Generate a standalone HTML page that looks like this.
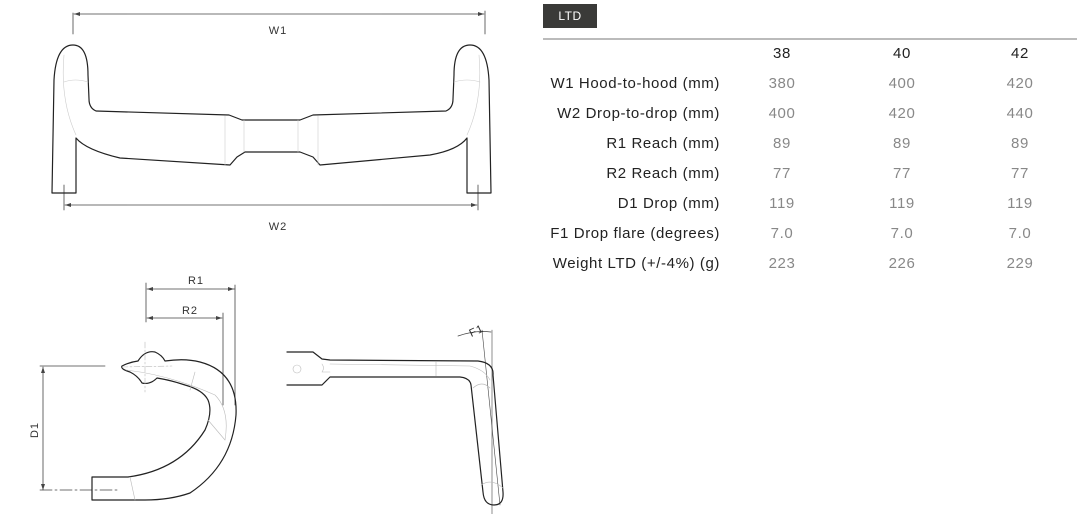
<!DOCTYPE html>
<html><head><meta charset="utf-8"><style>
html,body{margin:0;padding:0;background:#fff;}
body{width:1080px;height:514px;position:relative;overflow:hidden;font-family:"Liberation Sans",sans-serif;}
svg{position:absolute;left:0;top:0;}
.ltd{position:absolute;left:543px;top:4px;width:54px;height:24px;background:#3a3a38;color:#fff;font-size:12px;line-height:24px;text-align:center;letter-spacing:0.5px;}
.rule{position:absolute;left:543px;top:38px;width:534px;height:2px;background:#bbb;}
.t{position:absolute;font-size:15px;letter-spacing:0.6px;line-height:18px;}
.lab{right:360px;color:#222;text-align:right;}
.v{width:80px;text-align:center;color:#888;}
.h{width:80px;text-align:center;color:#222;}
</style></head><body>
<svg width="1080" height="514" viewBox="0 0 1080 514" fill="none" stroke-linecap="round" stroke-linejoin="round">
<g stroke="#444" stroke-width="0.8">
<line x1="73" y1="13" x2="73" y2="34"/><line x1="485" y1="11" x2="485" y2="34"/>
<line x1="74" y1="14" x2="484" y2="14"/>
<line x1="64" y1="185" x2="64" y2="210"/><line x1="478" y1="185" x2="478" y2="210"/>
<line x1="65" y1="205" x2="477" y2="205"/>
<line x1="146" y1="283" x2="146" y2="322"/>
<line x1="147" y1="289" x2="235" y2="289"/><line x1="235" y1="285" x2="235" y2="405"/>
<line x1="147" y1="318" x2="222" y2="318"/><line x1="223" y1="313" x2="223" y2="405"/>
<line x1="43" y1="367" x2="43" y2="490"/>
<line x1="40" y1="366" x2="105" y2="366"/>
<line x1="40" y1="490" x2="118" y2="490" stroke-dasharray="12 3 2 3"/>
<path d="M458 336 Q475 330 491 332"/>
<line x1="482" y1="330" x2="500" y2="505" stroke-width="0.6"/>
<line x1="492" y1="330" x2="492" y2="514" stroke-width="0.6"/>
</g>
<g fill="#444" stroke="none">
<path d="M74 14 l6 -2 v4z"/><path d="M484 14 l-6 -2 v4z"/>
<path d="M65 205 l6 -2 v4z"/><path d="M477 205 l-6 -2 v4z"/>
<path d="M147 289 l6 -2 v4z"/><path d="M234 289 l-6 -2 v4z"/>
<path d="M147 318 l6 -2 v4z"/><path d="M222 318 l-6 -2 v4z"/>
<path d="M43 367 l-2 6 h4z"/><path d="M43 490 l-2 -6 h4z"/>
</g>
<g font-family="Liberation Sans,sans-serif" font-size="11" fill="#333" stroke="none" text-anchor="middle" letter-spacing="1">
<text x="278" y="34">W1</text><text x="278" y="230">W2</text>
<text x="196" y="284">R1</text><text x="190" y="314">R2</text>
<text x="38" y="430" transform="rotate(-90 38 430)">D1</text>
<text x="478" y="334" transform="rotate(-25 478 334)">F1</text>
</g>
<g stroke="#222" stroke-width="1.2">
<path d="M52 193 L54 80 Q56 45 73 45 Q88 45 88 75 L89 99 Q89 108 96 111 L229 115 L242 120 L300 120 L313 115 L446 111 Q453 108 453 99 L454 75 Q454 45 470 45 Q487 45 489 80 L491 193 L467 193 L467 138 Q458 150 430 155 L320 165 L313 157 L300 152 L245 152 L237 157 L230 165 L120 158 Q86 150 76 138 L76 193 Z"/>
</g>
<g stroke="#ccc" stroke-width="0.6">
<path d="M64 55 Q60 100 76 135"/><path d="M479 55 Q483 100 467 135"/>
<line x1="244" y1="120" x2="244" y2="152"/><line x1="298" y1="120" x2="298" y2="152"/>
<line x1="225" y1="116" x2="225" y2="165"/><line x1="318" y1="116" x2="318" y2="165"/>
<path d="M64 82 Q75 78 88 82"/><path d="M454 82 Q467 78 480 82"/>
</g>
<g stroke="#222" stroke-width="1.2">
<path d="M122 366 Q130 362 138 361 Q145 350 155 352 Q162 355 165 361 Q185 358 200 362 Q238 372 236 415 Q232 465 190 493 Q170 500 145 500 L92 500 L92 477 L128 477 Q180 470 205 430 Q213 412 208 400 Q203 390 185 385 Q170 380 157 378 Q150 385 142 383 Q138 376 130 372 Q120 369 122 366 Z"/>
</g>
<g stroke="#bbb" stroke-width="0.6">
<line x1="145" y1="342" x2="145" y2="392" stroke-dasharray="6 2 2 2"/>
<line x1="122" y1="367" x2="172" y2="366" stroke-dasharray="6 2 2 2"/>
<path d="M126 370 Q170 375 215 395 Q230 410 225 440"/>
<line x1="130" y1="477" x2="135" y2="500"/>
<line x1="195" y1="372" x2="190" y2="390"/>
<path d="M225 440 L208 420"/>
</g>
<g stroke="#222" stroke-width="1.2">
<path d="M287 352 L313 352 L322 359 L330 360 L478 361 Q494 363 493 375 L503 492 Q504 505 494 505 Q484 505 483 492 L471 385 Q470 378 460 377 L330 377 L322 385 L287 385"/>
</g>
<g stroke="#bbb" stroke-width="0.6">
<path d="M322 364 Q325 368 322 372 L330 372"/><path d="M330 364 L470 366 Q485 370 490 380"/>
<line x1="436" y1="362" x2="436" y2="376"/>
<circle cx="297" cy="369" r="4"/>
<path d="M473 388 Q482 380 490 388"/><path d="M481 485 Q492 478 503 488"/>
</g>
</svg>
<div class="ltd">LTD</div>
<div class="rule"></div>
<div class="t h" style="left:742px;top:45px">38</div>
<div class="t h" style="left:862px;top:45px">40</div>
<div class="t h" style="left:980px;top:45px">42</div>
<div class="t lab" style="top:75px">W1 Hood-to-hood (mm)</div>
<div class="t v" style="left:742px;top:75px">380</div><div class="t v" style="left:862px;top:75px">400</div><div class="t v" style="left:980px;top:75px">420</div>
<div class="t lab" style="top:105px">W2 Drop-to-drop (mm)</div>
<div class="t v" style="left:742px;top:105px">400</div><div class="t v" style="left:862px;top:105px">420</div><div class="t v" style="left:980px;top:105px">440</div>
<div class="t lab" style="top:135px">R1 Reach (mm)</div>
<div class="t v" style="left:742px;top:135px">89</div><div class="t v" style="left:862px;top:135px">89</div><div class="t v" style="left:980px;top:135px">89</div>
<div class="t lab" style="top:165px">R2 Reach (mm)</div>
<div class="t v" style="left:742px;top:165px">77</div><div class="t v" style="left:862px;top:165px">77</div><div class="t v" style="left:980px;top:165px">77</div>
<div class="t lab" style="top:195px">D1 Drop (mm)</div>
<div class="t v" style="left:742px;top:195px">119</div><div class="t v" style="left:862px;top:195px">119</div><div class="t v" style="left:980px;top:195px">119</div>
<div class="t lab" style="top:225px">F1 Drop flare (degrees)</div>
<div class="t v" style="left:742px;top:225px">7.0</div><div class="t v" style="left:862px;top:225px">7.0</div><div class="t v" style="left:980px;top:225px">7.0</div>
<div class="t lab" style="top:255px">Weight LTD (+/-4%) (g)</div>
<div class="t v" style="left:742px;top:255px">223</div><div class="t v" style="left:862px;top:255px">226</div><div class="t v" style="left:980px;top:255px">229</div>
</body></html>
